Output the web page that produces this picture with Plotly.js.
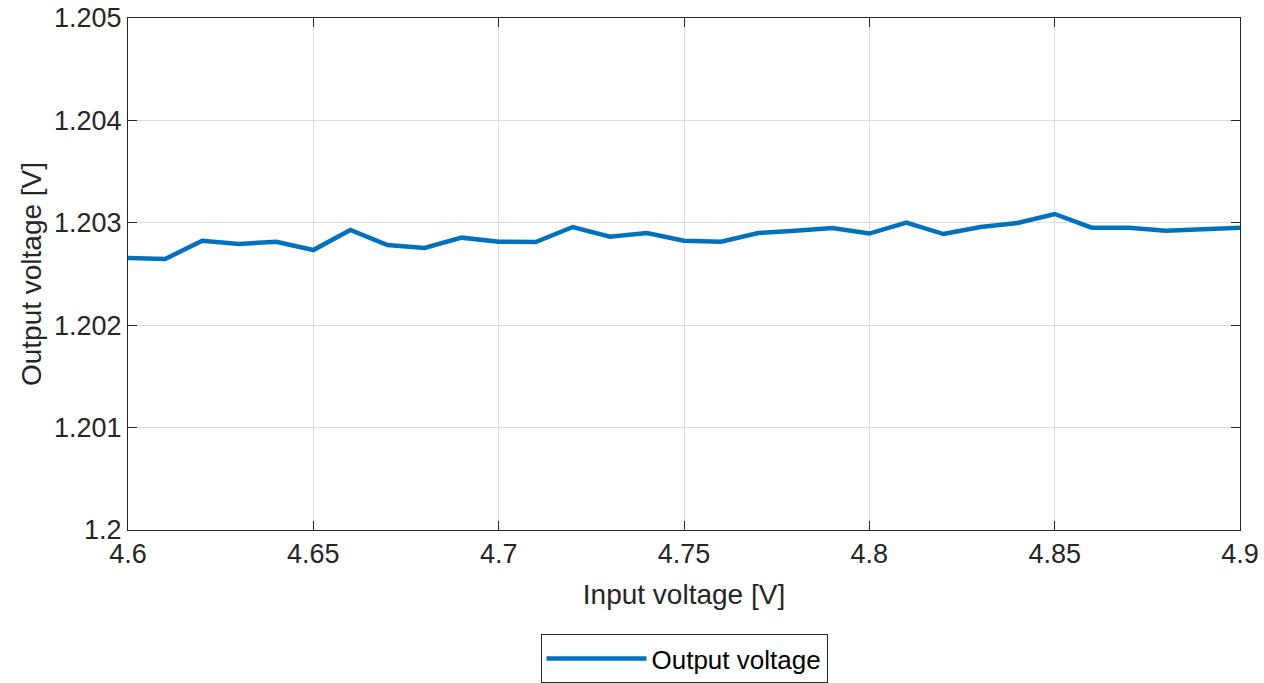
<!DOCTYPE html>
<html>
<head>
<meta charset="utf-8">
<script src="https://cdn.plot.ly/plotly-3.0.1.min.js"></script>
<style>html,body{margin:0;padding:0;background:#fff;}#chart{width:1264px;height:683px;}</style>
</head>
<body>
<div id="chart"></div>
<script>
const inputVoltage = [4.60,4.61,4.62,4.63,4.64,4.65,4.66,4.67,4.68,4.69,4.70,4.71,4.72,4.73,4.74,4.75,4.76,4.77,4.78,4.79,4.80,4.81,4.82,4.83,4.84,4.85,4.86,4.87,4.88,4.89,4.90];
const outputVoltage = [1.202656,1.202646,1.202825,1.202793,1.202815,1.202734,1.202930,1.202783,1.202754,1.202855,1.202815,1.202812,1.202959,1.202864,1.202900,1.202825,1.202815,1.202900,1.202923,1.202949,1.202895,1.203001,1.202890,1.202959,1.202998,1.203086,1.202952,1.202952,1.202923,1.202939,1.202952];
const xTickVals = [4.6,4.65,4.7,4.75,4.8,4.85,4.9];
const xTickText = ['4.6','4.65','4.7','4.75','4.8','4.85','4.9'];
const yTickVals = [1.2,1.201,1.202,1.203,1.204,1.205];
const yTickText = ['1.2','1.201','1.202','1.203','1.204','1.205'];

const fam = 'Liberation Sans, Arial, sans-serif';

Plotly.newPlot('chart', [{
  x: inputVoltage, y: outputVoltage, type: 'scatter', mode: 'lines',
  name: 'Output voltage',
  line: {color: '#0072BD', width: 4.5}
}], {
  width: 1264, height: 683,
  margin: {l: 128, r: 24, t: 18, b: 153},
  paper_bgcolor: '#fff', plot_bgcolor: '#fff',
  font: {family: fam, color: '#262626'},
  showlegend: true,
  legend: {
    x: 0.5, xanchor: 'center', xref: 'paper',
    y: 0, yanchor: 'bottom', yref: 'container',
    bordercolor: '#262626', borderwidth: 1, bgcolor: '#fff',
    itemwidth: 100,
    font: {family: fam, size: 26, color: '#000'}
  },
  xaxis: {
    range: [4.6, 4.9], tickvals: xTickVals, ticktext: xTickText,
    ticks: 'inside', ticklen: 9, tickcolor: '#262626', tickwidth: 1,
    showline: true, linecolor: '#262626', linewidth: 1, mirror: 'ticks',
    showgrid: true, gridcolor: '#dcdcdc', gridwidth: 1, zeroline: false,
    tickfont: {family: fam, size: 27, color: '#262626'},
    title: {text: 'Input voltage [V]', font: {family: fam, size: 28, color: '#262626'}, standoff: 15}
  },
  yaxis: {
    range: [1.2, 1.205], tickvals: yTickVals, ticktext: yTickText,
    ticks: 'inside', ticklen: 9, tickcolor: '#262626', tickwidth: 1,
    showline: true, linecolor: '#262626', linewidth: 1, mirror: 'ticks',
    showgrid: true, gridcolor: '#dcdcdc', gridwidth: 1, zeroline: false,
    tickfont: {family: fam, size: 27, color: '#262626'},
    title: {text: 'Output voltage [V]', font: {family: fam, size: 28, color: '#262626'}, standoff: 4}
  }
}, {displayModeBar: false});
</script>
</body>
</html>
